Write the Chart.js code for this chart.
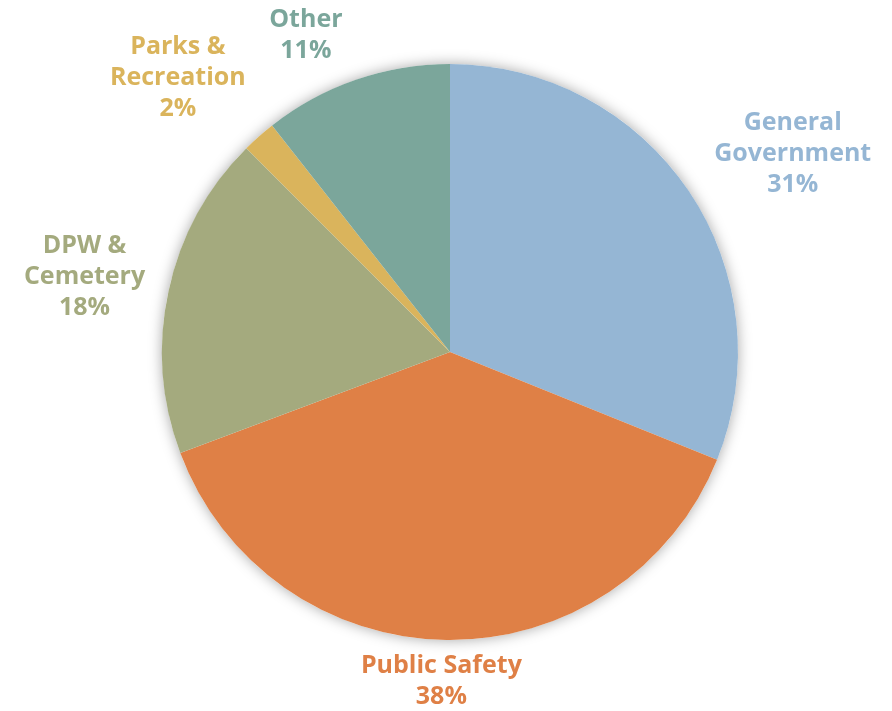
<!DOCTYPE html>
<html>
<head>
<meta charset="utf-8">
<script src="https://cdn.jsdelivr.net/npm/chart.js@4/dist/chart.umd.min.js"></script>
<style>
  html, body { margin: 0; padding: 0; background: #fff; }
  #wrap { width: 892px; height: 711px; position: relative; }
</style>
</head>
<body>
<div id="wrap"><canvas id="pie"></canvas></div>
<script>
const categories = [
  ['General', 'Government'],
  ['Public Safety'],
  ['DPW &', 'Cemetery'],
  ['Parks &', 'Recreation'],
  ['Other'],
];
const values = [31.1, 38.2, 18.2, 1.9, 10.6];
const colors = ['#95b6d4', '#df8046', '#a4aa7e', '#dab45c', '#7ba69b'];

// label nudge from the slice's outer mid point
const labelNudge = [[104, -37], [-5, 41], [-84, -14], [-81, -59], [-50, -44]];

const shadowPlugin = {
  id: 'pieShadow',
  beforeDatasetsDraw(chart) {
    const arc = chart.getDatasetMeta(0).data[0];
    if (!arc) return;
    const ctx = chart.ctx;
    ctx.save();
    ctx.shadowColor = 'rgba(0,0,0,0.35)';
    ctx.shadowBlur = 14;
    ctx.fillStyle = '#ffffff';
    ctx.beginPath();
    ctx.arc(arc.x, arc.y, arc.outerRadius, 0, Math.PI * 2);
    ctx.fill();
    ctx.restore();
  }
};

const outsideLabels = {
  id: 'outsideLabels',
  afterDatasetsDraw(chart) {
    const ctx = chart.ctx;
    const data = chart.data.datasets[0].data;
    const total = data.reduce((a, b) => a + b, 0);
    ctx.save();
    ctx.font = 'bold 25px "Open Sans"';
    ctx.textAlign = 'center';
    ctx.textBaseline = 'middle';
    chart.getDatasetMeta(0).data.forEach((arc, i) => {
      const mid = (arc.startAngle + arc.endAngle) / 2;
      const ax = arc.x + Math.cos(mid) * arc.outerRadius + labelNudge[i][0];
      const ay = arc.y + Math.sin(mid) * arc.outerRadius + labelNudge[i][1];
      const lines = categories[i].concat([Math.round(data[i] / total * 100) + '%']);
      const lh = 31;
      ctx.fillStyle = colors[i];
      lines.forEach((t, k) => {
        ctx.fillText(t, ax, ay + (k - (lines.length - 1) / 2) * lh);
      });
    });
    ctx.restore();
  }
};

new Chart(document.getElementById('pie'), {
  type: 'pie',
  data: {
    labels: categories.map(c => c.join(' ')),
    datasets: [{
      data: values,
      backgroundColor: colors,
      borderWidth: 0,
    }]
  },
  options: {
    responsive: true,
    maintainAspectRatio: false,
    animation: false,
    layout: { padding: { left: 100, right: 92, top: 64, bottom: 71 } },
    plugins: {
      legend: { display: false },
      tooltip: { enabled: false },
    }
  },
  plugins: [shadowPlugin, outsideLabels]
});
</script>
</body>
</html>
